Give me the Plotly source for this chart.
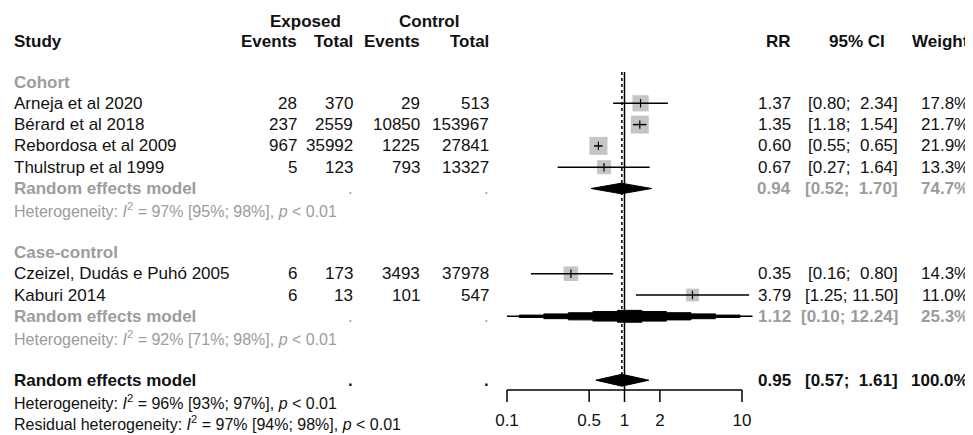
import plotly.graph_objects as go
import math

# ---------------- data ----------------
studies = ["Arneja et al 2020", "Bérard et al 2018", "Rebordosa et al 2009", "Thulstrup et al 1999",
           "Czeizel, Dudás e Puhó 2005", "Kaburi 2014"]
groups = ["Cohort", "Cohort", "Cohort", "Cohort", "Case-control", "Case-control"]
exp_events = [28, 237, 967, 5, 6, 6]
exp_total = [370, 2559, 35992, 123, 173, 13]
ctl_events = [29, 10850, 1225, 793, 3493, 101]
ctl_total = [513, 153967, 27841, 13327, 37978, 547]
rr = [1.37, 1.35, 0.60, 0.67, 0.35, 3.79]
rr_lo = [0.80, 1.18, 0.55, 0.27, 0.16, 1.25]
rr_hi = [2.34, 1.54, 0.65, 1.64, 0.80, 11.50]
weight = [17.8, 21.7, 21.9, 13.3, 14.3, 11.0]

group_names = ["Cohort", "Case-control"]
group_rr = [0.94, 1.12]
group_lo = [0.52, 0.10]
group_hi = [1.70, 12.24]
group_weight = [74.7, 25.3]
group_het = ["97% [95%; 98%]", "92% [71%; 98%]"]
group_stepped = [False, True]   # the wide case-control diamond is drawn in sampled steps

overall_rr = 0.95
overall_lo = 0.57
overall_hi = 1.61
overall_weight = 100.0
overall_het = "96% [93%; 97%]"
residual_het = "97% [94%; 98%]"

tick_vals = [0.1, 0.5, 1, 2, 10]
tick_text = ["0.1", "0.5", "1", "2", "10"]

# ---------------- style ----------------
PAGE_OFF = 8            # browser default body margin
W, H = 973 - PAGE_OFF, 435 - PAGE_OFF
FONT = "Liberation Sans, Arial, sans-serif"
FS = 17
FS_HET = 16
GREY = "#9C9C9C"
BLACK = "#111111"
SQ_COLOR = "#ADADAD"
ROW_PX = 21.3
ROW0_PX = 82.0 - PAGE_OFF
X1_PX = 624.5 - PAGE_OFF
DECADE_PX = 117.5
AXIS_PX = 390.0 - PAGE_OFF
TICK_PX = 12
TICKLABEL_PX = 422.0 - PAGE_OFF

# layout rows
r = 0
study_rows = []
group_label_rows, group_model_rows, group_het_rows = [], [], []
for g in group_names:
    group_label_rows.append(r); r += 1
    for i, gg in enumerate(groups):
        if gg == g:
            study_rows.append(r); r += 1
    group_model_rows.append(r); r += 1
    group_het_rows.append(r); r += 1
    r += 1
overall_row = r
overall_het_row = r + 1
residual_row = r + 2

y_top = -ROW0_PX / ROW_PX
y_bot = (H - ROW0_PX) / ROW_PX
x_left = -X1_PX / DECADE_PX
x_right = (W - X1_PX) / DECADE_PX
axis_row = (AXIS_PX - ROW0_PX) / ROW_PX
tick_end_row = (AXIS_PX + TICK_PX - ROW0_PX) / ROW_PX
ticklabel_row = (TICKLABEL_PX - ROW0_PX) / ROW_PX
header_row = -1.88
header_row2 = -2.86
line_top = -0.47


def px(xp):
    return (xp - PAGE_OFF) / W


fig = go.Figure()

# vertical reference lines
fig.add_trace(go.Scatter(x=[1, 1], y=[line_top, axis_row], mode="lines",
                         line=dict(color="black", width=1.5), hoverinfo="skip", showlegend=False))
fig.add_trace(go.Scatter(x=[overall_rr, overall_rr], y=[line_top, overall_row], mode="lines",
                         line=dict(color="black", width=1.5, dash="dot"), hoverinfo="skip", showlegend=False))

# squares
fig.add_trace(go.Scatter(x=rr, y=study_rows, mode="markers",
                         marker=dict(symbol="square", color=SQ_COLOR,
                                     size=[3.85 * math.sqrt(w) for w in weight], line=dict(width=0)),
                         hoverinfo="skip", showlegend=False))
# CI lines
for i in range(len(rr)):
    fig.add_trace(go.Scatter(x=[rr_lo[i], rr_hi[i]], y=[study_rows[i]] * 2, mode="lines",
                             line=dict(color="black", width=1.5), hoverinfo="skip", showlegend=False))
# point ticks
fig.add_trace(go.Scatter(x=rr, y=study_rows, mode="markers",
                         marker=dict(symbol="line-ns", size=6, line=dict(color="black", width=1.2)),
                         hoverinfo="skip", showlegend=False))


def diamond(lo, est, hi, yrow, half=0.27):
    fig.add_trace(go.Scatter(x=[lo, est, hi, est, lo], y=[yrow, yrow - half, yrow, yrow + half, yrow],
                             mode="lines", fill="toself", fillcolor="black",
                             line=dict(color="black", width=1), hoverinfo="skip", showlegend=False))


def stepped_diamond(lo, est, hi, yrow, half=0.28, n=10):
    a, c, b = math.log10(lo), math.log10(est), math.log10(hi)
    step = (b - a) / n
    samples = [a + k * step for k in range(n + 1)]

    def hh(p):
        if p <= c:
            return half * max(0.0, 1 - (c - p) / (c - a))
        return half * max(0.0, 1 - (p - c) / (b - c))

    xs_top, ys_top = [], []
    for k, p in enumerate(samples):
        left = max(a, p - step / 2)
        right = min(b, p + step / 2)
        h = hh(p)
        xs_top += [left, right]
        ys_top += [yrow - h, yrow - h]
    xs_bot = xs_top[::-1]
    ys_bot = [2 * yrow - y for y in ys_top[::-1]]
    xs = [10 ** v for v in xs_top + xs_bot] + [10 ** xs_top[0]]
    ys = ys_top + ys_bot + [ys_top[0]]
    fig.add_trace(go.Scatter(x=xs, y=ys, mode="lines", fill="toself", fillcolor="black",
                             line=dict(color="black", width=1), hoverinfo="skip", showlegend=False))
    fig.add_trace(go.Scatter(x=[lo, hi], y=[yrow, yrow], mode="lines",
                             line=dict(color="black", width=1.2), hoverinfo="skip", showlegend=False))


for k in range(len(group_names)):
    if group_stepped[k]:
        stepped_diamond(group_lo[k], group_rr[k], group_hi[k], group_model_rows[k])
    else:
        diamond(group_lo[k], group_rr[k], group_hi[k], group_model_rows[k], half=0.25)
diamond(overall_lo, overall_rr, overall_hi, overall_row, half=0.28)

# x axis (drawn from tick values on the log scale)
fig.add_trace(go.Scatter(x=[tick_vals[0], tick_vals[-1]], y=[axis_row, axis_row], mode="lines",
                         line=dict(color="black", width=1.5), hoverinfo="skip", showlegend=False))
for v in tick_vals:
    fig.add_trace(go.Scatter(x=[v, v], y=[axis_row, tick_end_row], mode="lines",
                             line=dict(color="black", width=1.5), hoverinfo="skip", showlegend=False))
fig.add_trace(go.Scatter(x=tick_vals, y=[ticklabel_row] * len(tick_vals), mode="text",
                         text=tick_text, textposition="middle center",
                         textfont=dict(family=FONT, size=FS, color=BLACK),
                         hoverinfo="skip", showlegend=False, cliponaxis=False))

ann = []


def t(text, xp, yrow, anchor="left", color=BLACK, bold=False, size=FS):
    if bold:
        text = "<b>" + text + "</b>"
    ann.append(dict(text=text, x=px(xp), y=yrow, xref="paper", yref="y", xanchor=anchor,
                    yanchor="middle", showarrow=False, borderpad=0,
                    font=dict(family=FONT, size=size, color=color)))


NB = "\u00a0"


def ci_text(lo, hi):
    return "[" + f"{lo:.2f}" + ";" + NB + f"{hi:.2f}".rjust(5, NB) + "]"


X_STUDY = 13
X_EE, X_ET, X_CE, X_CT = 298, 354, 421, 490
X_RR, X_CI, X_W = 792, 899, 970

# headers
t("Exposed", 305, header_row2, "center", bold=True)
t("Control", 428.5, header_row2, "center", bold=True)
t("Study", X_STUDY, header_row, bold=True)
t("Events", X_EE, header_row, "right", bold=True)
t("Total", X_ET, header_row, "right", bold=True)
t("Events", X_CE, header_row, "right", bold=True)
t("Total", X_CT, header_row, "right", bold=True)
t("RR", X_RR, header_row, "right", bold=True)
t("95% CI", 857, header_row, "center", bold=True)
t("Weight", X_W, header_row, "right", bold=True)

for k, g in enumerate(group_names):
    t(g, X_STUDY, group_label_rows[k], color=GREY, bold=True)
    yr = group_model_rows[k]
    t("Random effects model", X_STUDY, yr, color=GREY, bold=True)
    t(".", X_ET, yr, "right", color=GREY)
    t(".", X_CT, yr, "right", color=GREY)
    t(f"{group_rr[k]:.2f}", X_RR, yr, "right", color=GREY, bold=True)
    t(ci_text(group_lo[k], group_hi[k]), X_CI, yr, "right", color=GREY, bold=True)
    t(f"{group_weight[k]:.1f}%", X_W, yr, "right", color=GREY, bold=True)
    t("Heterogeneity: <i>I</i><sup>2</sup> = " + group_het[k] + ", <i>p</i> < 0.01",
      X_STUDY, group_het_rows[k], color=GREY, size=FS_HET)

for i, s in enumerate(studies):
    yr = study_rows[i]
    t(s, X_STUDY, yr)
    t(str(exp_events[i]), X_EE, yr, "right")
    t(str(exp_total[i]), X_ET, yr, "right")
    t(str(ctl_events[i]), X_CE, yr, "right")
    t(str(ctl_total[i]), X_CT, yr, "right")
    t(f"{rr[i]:.2f}", X_RR, yr, "right")
    t(ci_text(rr_lo[i], rr_hi[i]), X_CI, yr, "right")
    t(f"{weight[i]:.1f}%", X_W, yr, "right")

t("Random effects model", X_STUDY, overall_row, bold=True)
t(".", X_ET, overall_row, "right", bold=True)
t(".", X_CT, overall_row, "right", bold=True)
t(f"{overall_rr:.2f}", X_RR, overall_row, "right", bold=True)
t(ci_text(overall_lo, overall_hi), X_CI, overall_row, "right", bold=True)
t(f"{overall_weight:.1f}%", X_W, overall_row, "right", bold=True)
t("Heterogeneity: <i>I</i><sup>2</sup> = " + overall_het + ", <i>p</i> < 0.01",
  X_STUDY, overall_het_row, size=FS_HET)
t("Residual heterogeneity: <i>I</i><sup>2</sup> = " + residual_het + ", <i>p</i> < 0.01",
  X_STUDY, residual_row, size=FS_HET)

fig.update_layout(
    width=W, height=H, margin=dict(l=0, r=0, t=0, b=0, autoexpand=False),
    paper_bgcolor="white", plot_bgcolor="rgba(0,0,0,0)",
    showlegend=False, annotations=ann,
    xaxis=dict(type="log", range=[x_left, x_right], domain=[0, 1], visible=False, fixedrange=True),
    yaxis=dict(range=[y_bot, y_top], domain=[0, 1], visible=False, fixedrange=True),
)

fig.write_html("out.html")
